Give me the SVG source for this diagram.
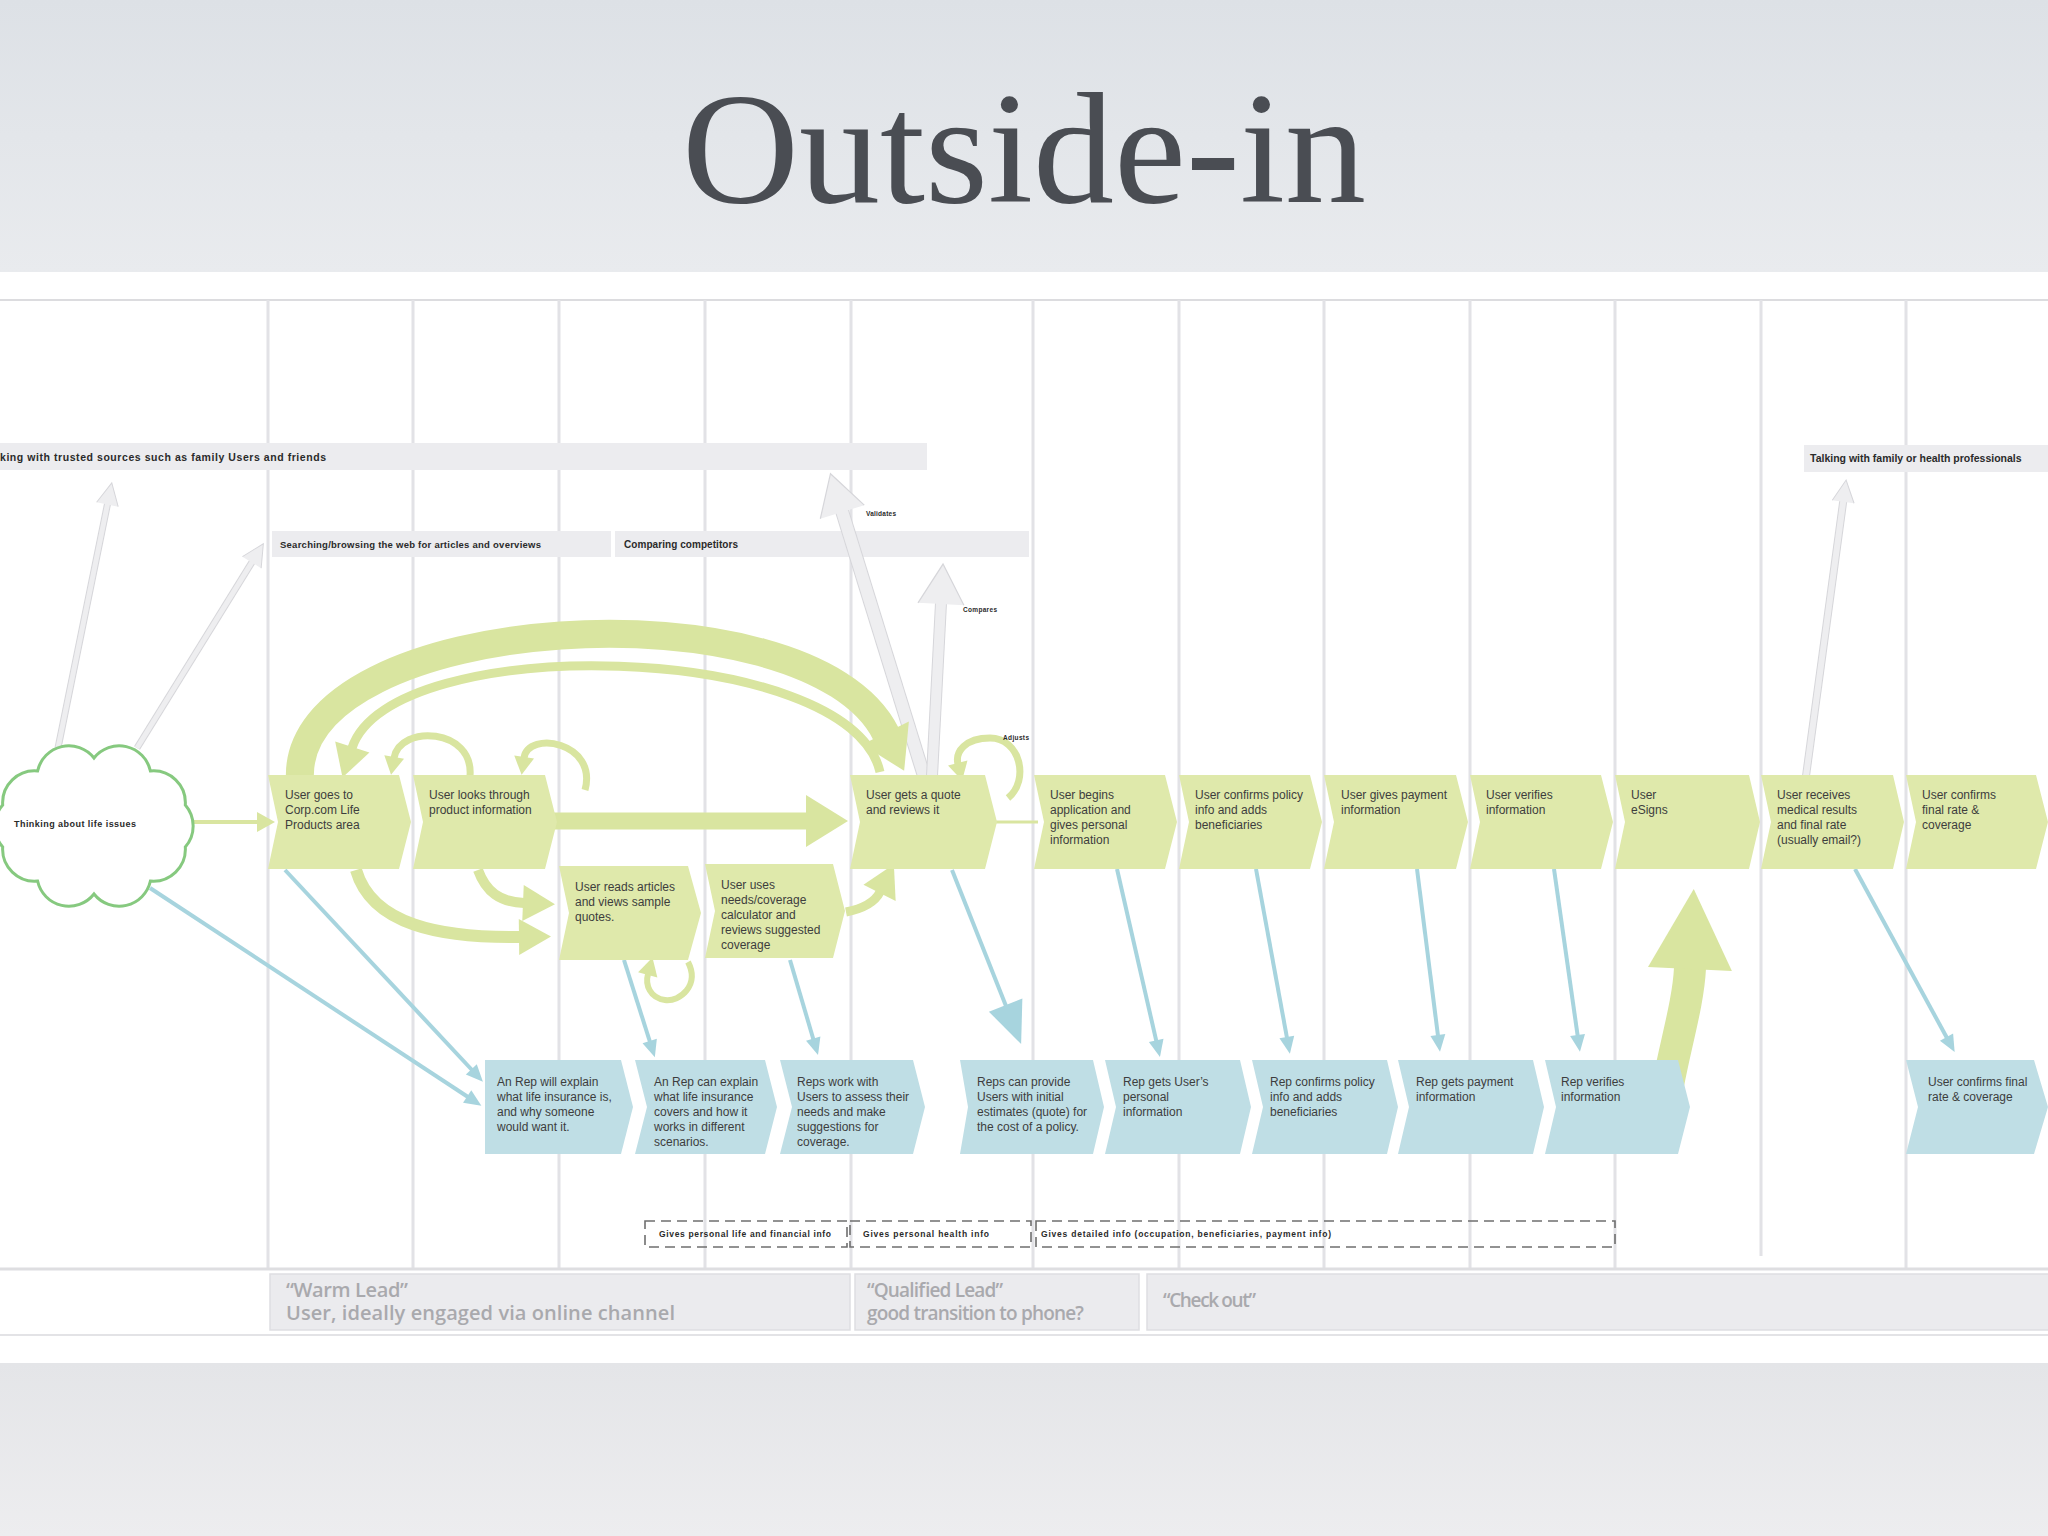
<svg xmlns="http://www.w3.org/2000/svg" width="2048" height="1536" viewBox="0 0 2048 1536">
<defs>
<linearGradient id="hdr" x1="0" y1="0" x2="0" y2="1"><stop offset="0" stop-color="#dde1e6"/><stop offset="1" stop-color="#e9ebee"/></linearGradient>
<linearGradient id="ftr" x1="0" y1="0" x2="0" y2="1"><stop offset="0" stop-color="#e4e5e8"/><stop offset="1" stop-color="#ededef"/></linearGradient>
<marker id="gBig" markerUnits="userSpaceOnUse" markerWidth="42" markerHeight="52" refX="1" refY="26" orient="auto" overflow="visible"><path d="M0,0 L42,26 L0,52Z" fill="#d9e5a0"/></marker>
<marker id="gMed" markerUnits="userSpaceOnUse" markerWidth="32" markerHeight="36" refX="1" refY="18" orient="auto" overflow="visible"><path d="M0,0 L32,18 L0,36Z" fill="#d9e5a0"/></marker>
<marker id="gSm" markerUnits="userSpaceOnUse" markerWidth="18" markerHeight="20" refX="1" refY="10" orient="auto" overflow="visible"><path d="M0,0 L18,10 L0,20Z" fill="#d9e5a0"/></marker>
<marker id="gUp" markerUnits="userSpaceOnUse" markerWidth="80" markerHeight="84" refX="1" refY="42" orient="auto" overflow="visible"><path d="M0,0 L80,42 L0,84Z" fill="#d9e5a0"/></marker>
<marker id="bSm" markerUnits="userSpaceOnUse" markerWidth="17" markerHeight="15" refX="1" refY="7.5" orient="auto" overflow="visible"><path d="M0,0 L17,7.5 L0,15Z" fill="#a7d4de"/></marker>
<marker id="bBig" markerUnits="userSpaceOnUse" markerWidth="42" markerHeight="36" refX="1" refY="18" orient="auto" overflow="visible"><path d="M0,0 L42,18 L0,36Z" fill="#a7d4de"/></marker>
<marker id="grB" markerUnits="userSpaceOnUse" markerWidth="40" markerHeight="46" refX="1" refY="23" orient="auto" overflow="visible"><path d="M0,0 L40,23 L0,46Z" fill="#eeeef0"/><path d="M0,0 L40,23 L0,46" fill="none" stroke="#d6d6da" stroke-width="1.2"/></marker>
<marker id="grS" markerUnits="userSpaceOnUse" markerWidth="22" markerHeight="22" refX="1" refY="11" orient="auto" overflow="visible"><path d="M0,0 L22,11 L0,22Z" fill="#eeeef0"/><path d="M0,0 L22,11 L0,22" fill="none" stroke="#d6d6da" stroke-width="1"/></marker>
<style>
.ch text{font-family:"Liberation Sans",Arial,sans-serif;font-size:12px;fill:#3d3d3d}
.g{fill:#dfe9ab}
.b{fill:#bfdee5}
.lbl{font-family:"Liberation Sans",Arial,sans-serif;font-weight:bold;fill:#2a2a2a}
.bar{fill:#ececef}
.stage{fill:#ebebee;stroke:#dedee2;stroke-width:1.5}
.stxt{font-family:"Open Sans","Liberation Sans",sans-serif;font-weight:600;fill:#a9a9ad}
.col{stroke:#e2e2e6;stroke-width:3;fill:none}
.ga{fill:none;stroke:#d9e5a0}
.ba{fill:none;stroke:#a7d4de;stroke-width:4}
.gro{fill:none;stroke:#d6d6da}
.gri{fill:none;stroke:#eeeef0}
.dash{fill:none;stroke:#6f6f6f;stroke-width:1.6;stroke-dasharray:10 6}
</style>
</defs>

<rect x="0" y="0" width="2048" height="272" fill="url(#hdr)"/>
<rect x="0" y="272" width="2048" height="1091" fill="#ffffff"/>
<rect x="0" y="1363" width="2048" height="173" fill="url(#ftr)"/>

<text x="1024" y="202" text-anchor="middle" font-family="'Liberation Serif','Times New Roman',serif" font-size="158" fill="#4a4d53" textLength="684" lengthAdjust="spacingAndGlyphs">Outside-in</text>

<g id="grid">
<line x1="0" y1="300" x2="2048" y2="300" stroke="#dcdcdf" stroke-width="2"/>
<path class="col" d="M268,300V1268 M413,300V1268 M559,300V1268 M705,300V1268 M851,300V1268 M1033,300V1268 M1179,300V1268 M1324,300V1268 M1470,300V1268 M1615,300V1268 M1761,300V1256 M1906,300V1268"/>
<line x1="0" y1="1269" x2="2048" y2="1269" stroke="#dedee1" stroke-width="3"/>
<line x1="0" y1="1335" x2="2048" y2="1335" stroke="#e3e3e6" stroke-width="2"/>
</g>

<g id="bar-trusted"><rect class="bar" x="0" y="443" width="927" height="27"/><text class="lbl" x="0" y="461" font-size="10.5" textLength="326">king with trusted sources such as family Users and friends</text></g>
<g id="bar-searching"><rect class="bar" x="272" y="531" width="339" height="26"/><text class="lbl" x="280" y="548" font-size="9.5" textLength="261">Searching/browsing the web for articles and overviews</text></g>
<g id="bar-comparing"><rect class="bar" x="615" y="531" width="414" height="26"/><text class="lbl" x="624" y="548" font-size="10" textLength="114">Comparing competitors</text></g>
<g id="bar-talking"><rect class="bar" x="1804" y="445" width="250" height="27"/><text class="lbl" x="1810" y="462" font-size="10.5">Talking with family or health professionals</text></g>

<g id="connectors">
<path class="gro" stroke-width="14" d="M924,776 L842,511"/>
<path class="gri" stroke-width="12" d="M924,776 L842,511" marker-end="url(#grB)"/>
<path class="gro" stroke-width="12" d="M932,776 L941,603"/>
<path class="gri" stroke-width="10" d="M932,776 L941,603" marker-end="url(#grB)"/>
<path class="gro" stroke-width="7" d="M58,748 L107.6,503.5"/>
<path class="gri" stroke-width="5" d="M58,748 L107.6,503.5" marker-end="url(#grS)"/>
<path class="gro" stroke-width="7" d="M137,748 L252.3,561.6"/>
<path class="gri" stroke-width="5" d="M137,748 L252.3,561.6" marker-end="url(#grS)"/>
<path class="gro" stroke-width="8" d="M1806,776 L1843.3,500.8"/>
<path class="gri" stroke-width="6" d="M1806,776 L1843.3,500.8" marker-end="url(#grS)"/>

<path class="ga" stroke-width="28" d="M300,780 C290,610 810,580 886,734" marker-end="url(#gBig)"/>
<path class="ga" stroke-width="9" d="M880,772 C850,640 390,630 352,748" marker-end="url(#gMed)"/>
<path class="ga" stroke-width="7" d="M470,776 C474,728 400,724 394,758" marker-end="url(#gSm)"/>
<path class="ga" stroke-width="7" d="M585,790 C598,742 528,730 524,758" marker-end="url(#gSm)"/>
<path class="ga" stroke-width="7" d="M1008,798 C1030,780 1020,738 990,738 C965,738 955,752 958,764" marker-end="url(#gSm)"/>
<path class="ga" stroke-width="6" d="M688,962 C700,985 680,1002 665,1000 C650,998 645,985 648,974" marker-end="url(#gSm)"/>
<path class="ga" stroke-width="17" d="M553,821 L807,821" marker-end="url(#gBig)"/>
<path class="ga" stroke-width="12" d="M356,870 C372,925 440,938 520,937" marker-end="url(#gMed)"/>
<path class="ga" stroke-width="10" d="M478,870 C486,892 500,902 524,903" marker-end="url(#gMed)"/>
<path class="ga" stroke-width="9" d="M846,912 C866,908 876,900 880,892" marker-end="url(#gMed)"/>
<path class="ga" stroke-width="4" d="M190,822 L258,822" marker-end="url(#gSm)"/>
<path class="ga" stroke-width="3" d="M996,822 L1038,822"/>
<path class="ga" stroke-width="32" d="M1662,1120 C1670,1060 1688,1010 1690,968" marker-end="url(#gUp)"/>

<path class="ba" d="M150,888 L468,1097" marker-end="url(#bSm)"/>
<path class="ba" d="M285,870 L472,1070" marker-end="url(#bSm)"/>
<path class="ba" d="M624,960 L650,1042" marker-end="url(#bSm)"/>
<path class="ba" d="M790,960 L813.5,1039.7" marker-end="url(#bSm)"/>
<path class="ba" stroke-width="10" d="M952,870 L1006,1006" marker-end="url(#bBig)"/>
<path class="ba" d="M1117,869 L1156.4,1041.4" marker-end="url(#bSm)"/>
<path class="ba" d="M1256,869 L1287,1038" marker-end="url(#bSm)"/>
<path class="ba" d="M1417,869 L1438,1036" marker-end="url(#bSm)"/>
<path class="ba" d="M1554,869 L1577.7,1036" marker-end="url(#bSm)"/>
<path class="ba" d="M1855,869 L1947,1038" marker-end="url(#bSm)"/>
</g>

<g id="cloud">
<path d="M185.3,847 A32,32 0 0 1 150.4,881 A32,32 0 0 1 94,894 A32,32 0 0 1 37.6,881 A32,32 0 0 1 2.7,847 A32,32 0 0 1 2.7,805 A32,32 0 0 1 37.6,771 A32,32 0 0 1 94,758 A32,32 0 0 1 150.4,771 A32,32 0 0 1 185.3,805 A32,32 0 0 1 185.3,847 Z" fill="#ffffff" stroke="#86c97f" stroke-width="3"/>
<text class="lbl" x="14" y="827" font-size="9" textLength="122">Thinking about life issues</text>
</g>

<g class="ch">
<g id="u-goes"><path class="g" d="M268,775 H399 L411,822 L399,869 H268 L278,822Z"/><text x="285" y="799">User goes to</text><text x="285" y="814">Corp.com Life</text><text x="285" y="829">Products area</text></g>
<g id="u-looks"><path class="g" d="M413,775 H545 L557,822 L545,869 H413 L423,822Z"/><text x="429" y="799">User looks through</text><text x="429" y="814">product information</text></g>
<g id="u-quote"><path class="g" d="M850,775 H985 L997,822 L985,869 H850 L860,822Z"/><text x="866" y="799">User gets a quote</text><text x="866" y="814">and reviews it</text></g>
<g id="u-begins"><path class="g" d="M1034,775 H1165 L1177,822 L1165,869 H1034 L1044,822Z"/><text x="1050" y="799">User begins</text><text x="1050" y="814">application and</text><text x="1050" y="829">gives personal</text><text x="1050" y="844">information</text></g>
<g id="u-confirms"><path class="g" d="M1179,775 H1310 L1322,822 L1310,869 H1179 L1189,822Z"/><text x="1195" y="799">User confirms policy</text><text x="1195" y="814">info and adds</text><text x="1195" y="829">beneficiaries</text></g>
<g id="u-payment"><path class="g" d="M1324,775 H1456 L1468,822 L1456,869 H1324 L1334,822Z"/><text x="1341" y="799">User gives payment</text><text x="1341" y="814">information</text></g>
<g id="u-verifies"><path class="g" d="M1470,775 H1601 L1613,822 L1601,869 H1470 L1480,822Z"/><text x="1486" y="799">User verifies</text><text x="1486" y="814">information</text></g>
<g id="u-esigns"><path class="g" d="M1615,775 H1749 L1760,822 L1749,869 H1615 L1625,822Z"/><text x="1631" y="799">User</text><text x="1631" y="814">eSigns</text></g>
<g id="u-receives"><path class="g" d="M1761,775 H1893 L1904,822 L1893,869 H1761 L1771,822Z"/><text x="1777" y="799">User receives</text><text x="1777" y="814">medical results</text><text x="1777" y="829">and final rate</text><text x="1777" y="844">(usually email?)</text></g>
<g id="u-final"><path class="g" d="M1906,775 H2036 L2048,822 L2036,869 H1906 L1916,822Z"/><text x="1922" y="799">User confirms</text><text x="1922" y="814">final rate &amp;</text><text x="1922" y="829">coverage</text></g>
<g id="u-reads"><path class="g" d="M559,866 H688 L701,913 L688,960 H559 L569,913Z"/><text x="575" y="891">User reads articles</text><text x="575" y="906">and views sample</text><text x="575" y="921">quotes.</text></g>
<g id="u-uses"><path class="g" d="M705,864 H833 L845,911 L833,958 H705 L715,911Z"/><text x="721" y="889">User uses</text><text x="721" y="904">needs/coverage</text><text x="721" y="919">calculator and</text><text x="721" y="934">reviews suggested</text><text x="721" y="949">coverage</text></g>

<g id="r-explain"><path class="b" d="M485,1060 H621 L633,1107 L621,1154 H485Z"/><text x="497" y="1086">An Rep will explain</text><text x="497" y="1101">what life insurance is,</text><text x="497" y="1116">and why someone</text><text x="497" y="1131">would want it.</text></g>
<g id="r-covers"><path class="b" d="M635,1060 H765 L777,1107 L765,1154 H635 L647,1107Z"/><text x="654" y="1086">An Rep can explain</text><text x="654" y="1101">what life insurance</text><text x="654" y="1116">covers and how it</text><text x="654" y="1131">works in different</text><text x="654" y="1146">scenarios.</text></g>
<g id="r-assess"><path class="b" d="M780,1060 H913 L925,1107 L913,1154 H780 L792,1107Z"/><text x="797" y="1086">Reps work with</text><text x="797" y="1101">Users to assess their</text><text x="797" y="1116">needs and make</text><text x="797" y="1131">suggestions for</text><text x="797" y="1146">coverage.</text></g>
<g id="r-estimates"><path class="b" d="M960,1060 H1093 L1104,1107 L1093,1154 H960 L968,1107Z"/><text x="977" y="1086">Reps can provide</text><text x="977" y="1101">Users with initial</text><text x="977" y="1116">estimates (quote) for</text><text x="977" y="1131">the cost of a policy.</text></g>
<g id="r-personal"><path class="b" d="M1105,1060 H1240 L1251,1107 L1240,1154 H1105 L1116,1107Z"/><text x="1123" y="1086">Rep gets User’s</text><text x="1123" y="1101">personal</text><text x="1123" y="1116">information</text></g>
<g id="r-confirms"><path class="b" d="M1252,1060 H1387 L1398,1107 L1387,1154 H1252 L1263,1107Z"/><text x="1270" y="1086">Rep confirms policy</text><text x="1270" y="1101">info and adds</text><text x="1270" y="1116">beneficiaries</text></g>
<g id="r-payment"><path class="b" d="M1398,1060 H1533 L1544,1107 L1533,1154 H1398 L1409,1107Z"/><text x="1416" y="1086">Rep gets payment</text><text x="1416" y="1101">information</text></g>
<g id="r-verifies"><path class="b" d="M1545,1060 H1678 L1690,1107 L1678,1154 H1545 L1556,1107Z"/><text x="1561" y="1086">Rep verifies</text><text x="1561" y="1101">information</text></g>
<g id="r-final"><path class="b" d="M1906,1060 H2034 L2048,1107 L2034,1154 H1906 L1918,1107Z"/><text x="1928" y="1086">User confirms final</text><text x="1928" y="1101">rate &amp; coverage</text></g>
</g>

<g id="labels">
<text class="lbl" x="866" y="516" font-size="6.5" textLength="30">Validates</text>
<text class="lbl" x="963" y="612" font-size="6.5" textLength="34">Compares</text>
<text class="lbl" x="1003" y="740" font-size="6.5" textLength="26">Adjusts</text>
</g>

<g id="info-boxes">
<g id="info-life"><rect class="dash" x="645" y="1221" width="202" height="26"/><text class="lbl" x="659" y="1237" font-size="8.5" textLength="172">Gives personal life and financial info</text></g>
<g id="info-health"><rect class="dash" x="850" y="1221" width="181" height="26"/><text class="lbl" x="863" y="1237" font-size="8.5" textLength="126">Gives personal health info</text></g>
<g id="info-detail"><rect class="dash" x="1036" y="1221" width="579" height="26"/><text class="lbl" x="1041" y="1237" font-size="8.5" textLength="290">Gives detailed info (occupation, beneficiaries, payment info)</text></g>
</g>

<g id="stages">
<g id="stage-warm"><rect class="stage" x="270" y="1274" width="580" height="56"/><text class="stxt" x="286" y="1297" font-size="20" textLength="122">“Warm Lead”</text><text class="stxt" x="286" y="1320" font-size="20" textLength="389">User, ideally engaged via online channel</text></g>
<g id="stage-qualified"><rect class="stage" x="855" y="1274" width="284" height="56"/><text class="stxt" x="867" y="1297" font-size="19" textLength="136">“Qualified Lead”</text><text class="stxt" x="867" y="1320" font-size="19" textLength="217">good transition to phone?</text></g>
<g id="stage-checkout"><rect class="stage" x="1147" y="1274" width="910" height="56"/><text class="stxt" x="1163" y="1307" font-size="19" textLength="93">“Check out”</text></g>
</g>
</svg>
